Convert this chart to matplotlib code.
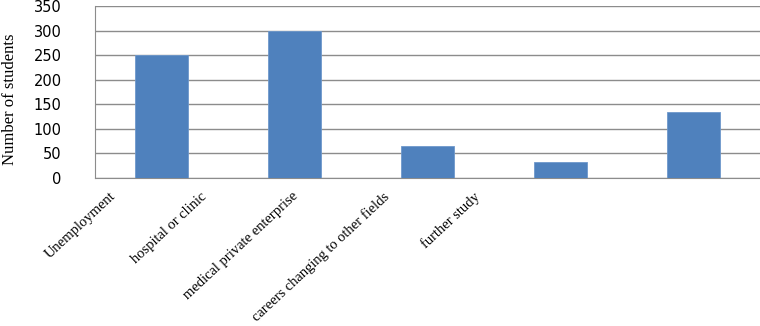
import matplotlib
matplotlib.use('Agg')
import matplotlib.pyplot as plt
import matplotlib.transforms as mtransforms
import numpy as np

categories = ['Unemployment', 'hospital or clinic', 'medical private enterprise',
              'careers changing to other fields', 'further study']
students = [250, 300, 65, 32, 135]
yticks = [0, 50, 100, 150, 200, 250, 300, 350]

fig = plt.figure(figsize=(7.6, 3.26), dpi=100)
ax = fig.add_axes([0.125, 0.454, 0.875, 0.5275])

x = np.arange(len(categories))
ax.bar(x, students, width=0.4, color='#4F81BD', edgecolor='#6E98CC', linewidth=0.6, zorder=3)

ax.set_xlim(-0.5, len(categories) - 0.5)
ax.set_ylim(0, 350)
ax.set_yticks(yticks)
ax.yaxis.grid(True, color='#8c8c8c', linewidth=1.0, zorder=0)
ax.set_axisbelow(True)

for s in ['top', 'right']:
    ax.spines[s].set_visible(False)
ax.spines['left'].set_color('#8c8c8c')
ax.spines['bottom'].set_color('#8c8c8c')

ax.tick_params(axis='both', length=0)
ax.tick_params(axis='y', pad=24, labelsize=10.5)
for lab in ax.get_yticklabels():
    lab.set_fontfamily('DejaVu Sans')

ax.set_xticks(x)
ax.set_xticklabels(categories, rotation=43, ha='right', va='top',
                   rotation_mode='anchor', fontsize=10.5, family='Liberation Serif')
# labels in the source sit left of their bars, drifting further each step
for i, lab in enumerate(ax.get_xticklabels()):
    off = mtransforms.ScaledTranslation(-(52 + 42 * i) / 100, -0.07, fig.dpi_scale_trans)
    lab.set_transform(lab.get_transform() + off)

ax.set_ylabel('Number of students', family='Liberation Serif', fontsize=12)
ax.yaxis.set_label_coords(-0.116, 0.46)

plt.savefig('out.png', dpi=100)
